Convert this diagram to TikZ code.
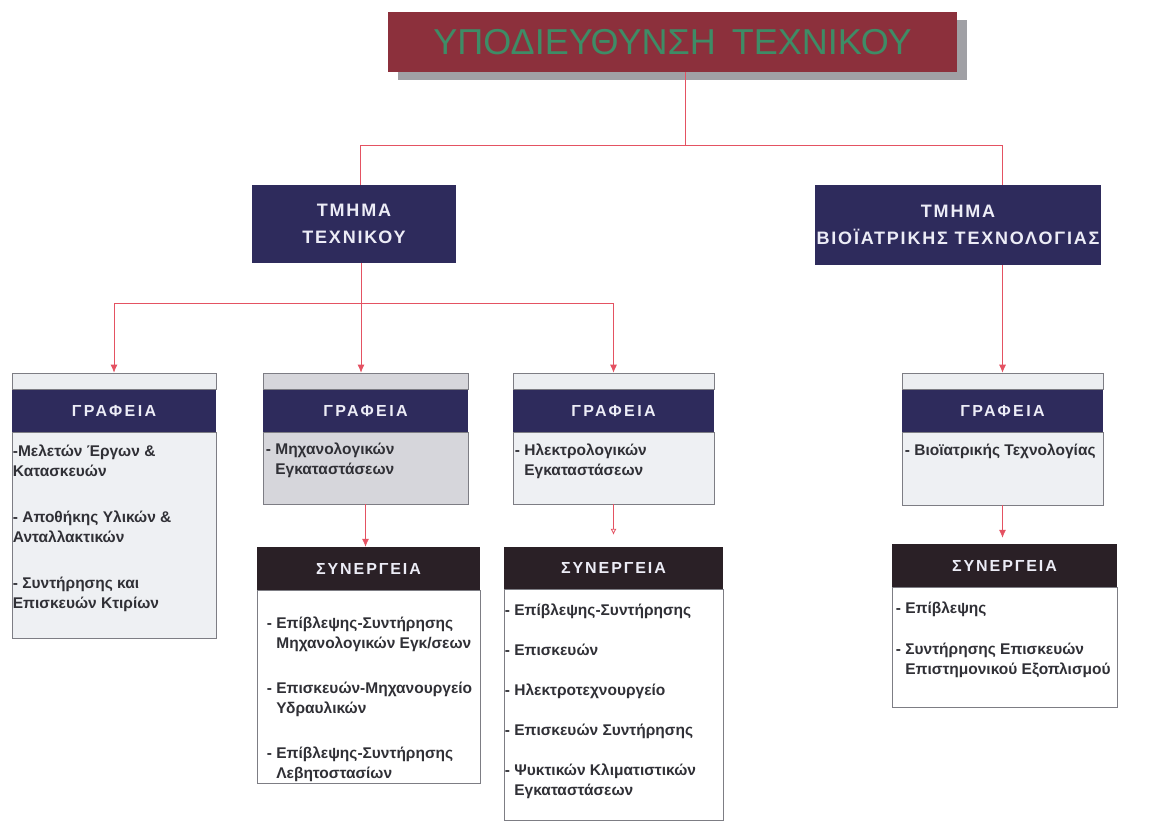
\documentclass[tikz,border=0pt]{standalone}
\usepackage{fontspec}
\setmainfont{Liberation Sans}
\usetikzlibrary{positioning,shadows,arrows.meta}

\definecolor{topred}{RGB}{140,48,60}
\definecolor{topgreen}{RGB}{62,140,102}
\definecolor{navy}{RGB}{46,43,92}
\definecolor{synblack}{RGB}{42,32,38}
\definecolor{stripgray}{RGB}{236,238,241}
\definecolor{bodygray}{RGB}{238,240,243}
\definecolor{dotgray}{RGB}{214,214,219}
\definecolor{framegray}{RGB}{125,125,132}
\definecolor{linkred}{RGB}{228,82,98}
\definecolor{itemgray}{RGB}{48,48,54}
\definecolor{headtext}{RGB}{236,236,246}
\definecolor{shadowgray}{RGB}{160,160,165}

\newcommand{\itemfont}{\fontsize{15.5}{20}\selectfont\bfseries}
\newcommand{\ind}{\phantom{- }}

\begin{document}
\begin{tikzpicture}[x=1pt,y=-1pt,
    topbox/.style={fill=topred,minimum width=569pt,minimum height=60pt,inner sep=0pt,
      text=topgreen,font=\fontsize{36}{40}\selectfont,
      drop shadow={shadow xshift=10pt,shadow yshift=-8pt,fill=shadowgray,opacity=1}},
    dept/.style={fill=navy,text=headtext,align=center,inner sep=0pt,
      font=\fontsize{18}{27}\selectfont\bfseries\addfontfeature{LetterSpace=10}},
    strip/.style={fill=stripgray,draw=framegray,line width=.6pt,minimum height=16pt,inner sep=0pt},
    offhead/.style={fill=navy,text=headtext,minimum height=42pt,inner sep=0pt,
      font=\fontsize{16}{18}\selectfont\bfseries\addfontfeature{LetterSpace=15}},
    offbody/.style={fill=bodygray,draw=framegray,line width=.6pt,inner sep=0pt},
    synhead/.style={fill=synblack,text=headtext,minimum height=43pt,inner sep=0pt,
      font=\fontsize{16}{18}\selectfont\bfseries\addfontfeature{LetterSpace=12}},
    synbody/.style={fill=white,draw=framegray,line width=.6pt,inner sep=0pt},
    item/.style={anchor=north west,align=left,inner sep=0pt,text=itemgray,font=\itemfont},
    link/.style={draw=linkred,line width=.8pt},
    tip/.style={link,-{Latex[length=8pt,width=7pt]}}]
  \useasboundingbox[fill=white] (0,0) rectangle (1162,821);

  % head of the unit
  \node[topbox] (top) at (672.5,42) {ΥΠΟΔΙΕΥΘΥΝΣΗ\hspace{16pt}ΤΕΧΝΙΚΟΥ};

  % departments
  \node[dept,minimum width=204pt,minimum height=78pt] (dep1) at (354,224) {ΤΜΗΜΑ\\ΤΕΧΝΙΚΟΥ};
  \node[dept,minimum width=286pt,minimum height=80pt] (dep2) at (958,225) {ΤΜΗΜΑ\\ΒΙΟΪΑΤΡΙΚΗΣ ΤΕΧΝΟΛΟΓΙΑΣ};

  % offices
  \node[strip,minimum width=204pt] (g1top) at (114,381) {};
  \node[offhead,minimum width=204pt,below=0pt of g1top] (g1) {ΓΡΑΦΕΙΑ};
  \node[offbody,minimum width=204pt,minimum height=206pt,below=0pt of g1] (g1body) {};

  \node[strip,fill=dotgray,minimum width=205pt] (g2top) at (365.5,381) {};
  \node[offhead,minimum width=205pt,below=0pt of g2top] (g2) {ΓΡΑΦΕΙΑ};
  \node[offbody,fill=dotgray,minimum width=205pt,minimum height=72pt,below=0pt of g2] (g2body) {};

  \node[strip,minimum width=201pt] (g3top) at (613.5,381) {};
  \node[offhead,minimum width=201pt,below=0pt of g3top] (g3) {ΓΡΑΦΕΙΑ};
  \node[offbody,minimum width=201pt,minimum height=72pt,below=0pt of g3] (g3body) {};

  \node[strip,minimum width=201pt] (g4top) at (1002.5,381) {};
  \node[offhead,minimum width=201pt,below=0pt of g4top] (g4) {ΓΡΑΦΕΙΑ};
  \node[offbody,minimum width=201pt,minimum height=73pt,below=0pt of g4] (g4body) {};

  % workshops
  \node[synhead,minimum width=223pt] (s2) at (368.5,568.5) {ΣΥΝΕΡΓΕΙΑ};
  \node[synbody,minimum width=223pt,minimum height=193pt,below=0pt of s2] (s2body) {};

  \node[synhead,minimum width=219pt,minimum height=42pt] (s3) at (613.5,568) {ΣΥΝΕΡΓΕΙΑ};
  \node[synbody,minimum width=219pt,minimum height=231pt,below=0pt of s3] (s3body) {};

  \node[synhead,minimum width=225pt] (s4) at (1004.5,565.5) {ΣΥΝΕΡΓΕΙΑ};
  \node[synbody,minimum width=225pt,minimum height=120pt,below=0pt of s4] (s4body) {};

  % lists
  \node[item] (g1list) at ([shift={(1,13)}]g1body.north west)
    {-Μελετών Έργων \&\\Κατασκευών\\[26pt]- Αποθήκης Υλικών \&\\Ανταλλακτικών\\[26pt]- Συντήρησης και\\Επισκευών Κτιρίων};
  \node[item] (g2list) at ([shift={(3,11)}]g2body.north west) {- Μηχανολογικών\\\ind Εγκαταστάσεων};
  \node[item] (g3list) at ([shift={(2,12)}]g3body.north west) {- Ηλεκτρολογικών\\\ind Εγκαταστάσεων};
  \node[item] (g4list) at ([shift={(3,12)}]g4body.north west) {- Βιοϊατρικής Τεχνολογίας};
  \node[item] (s2list) at ([shift={(10,26)}]s2body.north west)
    {- Επίβλεψης-Συντήρησης\\\ind Μηχανολογικών Εγκ/σεων\\[25pt]- Επισκευών-Μηχανουργείο\\\ind Υδραυλικών\\[25pt]- Επίβλεψης-Συντήρησης\\\ind Λεβητοστασίων};
  \node[item] (s3list) at ([shift={(1,14)}]s3body.north west)
    {- Επίβλεψης-Συντήρησης\\[20pt]- Επισκευών\\[20pt]- Ηλεκτροτεχνουργείο\\[20pt]- Επισκευών Συντήρησης\\[20pt]- Ψυκτικών Κλιματιστικών\\\ind Εγκαταστάσεων};
  \node[item] (s4list) at ([shift={(4,14)}]s4body.north west)
    {- Επίβλεψης\\[21pt]- Συντήρησης Επισκευών\\\ind Επιστημονικού Εξοπλισμού};

  % connectors
  \coordinate (t1) at (685,145);
  \coordinate (h1) at (360,145);
  \coordinate (h2) at (1002,145);
  \coordinate (j1) at (361,303);
  \draw[link] (t1 |- top.south) -- (t1);
  \draw[link] (h1 |- dep1.north) -- (h1) -- (h2) -- (h2 |- dep2.north);
  \draw[link] (j1 |- dep1.south) -- (j1);
  \draw[tip] (j1) -| (g1top.north);
  \draw[tip] (j1) -- (j1 |- g2top.north);
  \draw[tip] (j1) -| (g3top.north);
  \draw[tip] (dep2.south -| g4top.north) -- (g4top.north);
  \draw[tip] (g2body.south) -- (g2body.south |- s2.north);
  \draw[link,-{Latex[open,length=6pt,width=6pt]},shorten >=12pt] (g3body.south) -- (s3.north);
  \draw[tip,shorten >=6pt] (g4body.south) -- (g4body.south |- s4.north);
\end{tikzpicture}
\end{document}
